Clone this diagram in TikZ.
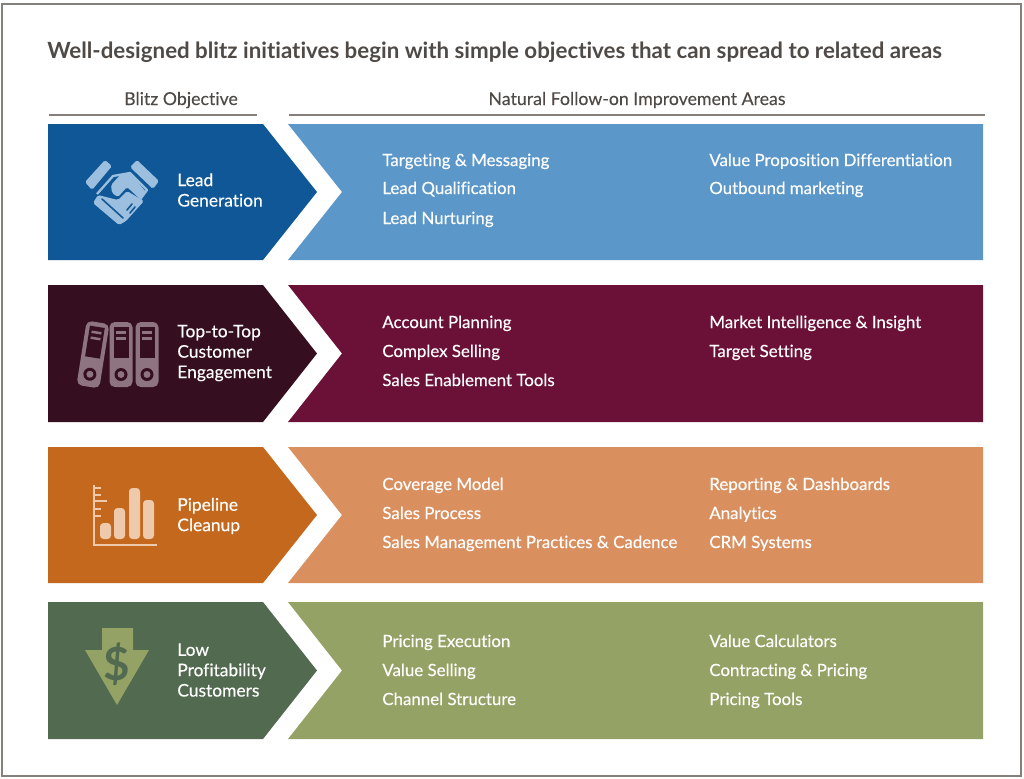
\documentclass[tikz,border=0pt]{standalone}
\usepackage{fontspec}
\setmainfont{Lato}[Ligatures=CommonOff]
\newfontfamily\medfont{Lato}[FakeBold=0.3,Ligatures=CommonOff]
\newfontfamily\headfont{Lato}[FakeBold=0.1,Ligatures=CommonOff]
\definecolor{inkgray}{HTML}{4F4A46}
\definecolor{rulegray}{HTML}{85807B}
\definecolor{leadD}{HTML}{0F5796}
\definecolor{leadL}{HTML}{5B97C9}
\definecolor{leadI}{HTML}{9DBFDF}
\definecolor{topD}{HTML}{350F1F}
\definecolor{topL}{HTML}{6B1138}
\definecolor{topI}{HTML}{8D7480}
\definecolor{pipeD}{HTML}{C3681D}
\definecolor{pipeL}{HTML}{DA8F5F}
\definecolor{pipeI}{HTML}{EFC9AB}
\definecolor{lowD}{HTML}{526A50}
\definecolor{lowL}{HTML}{95A265}
\tikzset{
  itemtext/.style={text=white,anchor=base west,inner sep=0pt,font=\medfont\fontsize{9.6}{11}\selectfont},
  headtext/.style={text=inkgray,inner sep=0pt,anchor=base,font=\headfont\fontsize{10.1}{12}\selectfont},
  goaltext/.style={text=white,anchor=west,inner sep=0pt,align=left,font=\medfont\fontsize{9.9}{11.6}\selectfont}
}
\begin{document}
\begin{tikzpicture}[x=0.02cm,y=-0.02cm]
 \useasboundingbox (0,0) rectangle (1024,778);
 \draw[rulegray,line width=0.7pt] (2,4) rectangle (1021,776);
 \node[text=inkgray,anchor=west,inner sep=0pt,font=\fontsize{12.7}{15}\selectfont\bfseries] (title) at (47,52)
   {Well-designed blitz initiatives begin with simple objectives that can spread to related areas};
 \node[headtext] (headleft) at (181,105) {Blitz Objective};
 \node[headtext] (headright) at (637,105) {Natural Follow-on Improvement Areas};
 \draw[rulegray,line width=1.2pt] (49,115)--(257,115);
 \draw[rulegray,line width=1.2pt] (289,115)--(985,115);
% the four bands: top, bottom, dark, light
 \foreach \t/\b/\cd/\cl in {124/260/leadD/leadL, 285/422/topD/topL, 447/583/pipeD/pipeL, 602/739/lowD/lowL} {
  \fill[\cd] (48,\t)--(263,\t)--(317,{(\t+\b)/2})--(263,\b)--(48,\b)--cycle;
  \fill[\cl] (288,\t)--(983,\t)--(983,\b)--(288,\b)--(342,{(\t+\b)/2})--cycle;
 }
% band labels
 \node[goaltext] (goallead) at (177,190) {Lead\\Generation};
 \node[goaltext] (goaltop) at (177,353) {Top-to-Top\\Customer\\Engagement};
 \node[goaltext] (goalpipe) at (177,516) {Pipeline\\Cleanup};
 \node[goaltext] (goallow) at (177,670) {Low\\Profitability\\Customers};
% follow-on areas
 \foreach \y/\txt in {166/Targeting \& Messaging, 194/Lead Qualification, 224/Lead Nurturing,
   328/Account Planning, 357/Complex Selling, 386/Sales Enablement Tools,
   490/Coverage Model, 519/Sales Process, 548/Sales Management Practices \& Cadence,
   647/Pricing Execution, 676/Value Selling, 705/Channel Structure}
  \node[itemtext] at (382,\y) {\txt};
 \foreach \y/\txt in {166/Value Proposition Differentiation, 194/Outbound marketing,
   328/Market Intelligence \& Insight, 357/Target Setting,
   490/Reporting \& Dashboards, 519/Analytics, 548/CRM Systems,
   647/Value Calculators, 676/Contracting \& Pricing, 705/Pricing Tools}
  \node[itemtext] at (709,\y) {\txt};
% handshake
 \fill[leadI,rounded corners=1pt] (85,182)--(105,160)--(112,166)--(92,190)--cycle;
 \fill[leadI,rounded corners=1pt] (130,167)--(137,160)--(159,181)--(153,189)--cycle;
 \draw[leadI,line width=1.3pt,line join=round] (97,194)--(113,176)--(130,173)--(147,190)--(125,220);
 \fill[leadI,rounded corners=1pt] (111,185)--(121,174)--(131,174)--(146,192)--(140,199)--(127,187)--(118,197)--(112,193)--cycle;
 \fill[leadI,rounded corners=1pt] (98,195)--(118,200)--(127,191)--(144,201)--(126,221)--(119,225)--(93,203)--cycle;
 \draw[leadD,line width=0.9pt,line cap=round] (102,199)--(123,218) (127,210)--(132,204) (130,213)--(135,207) (133,216)--(138,210);
% binders
 \foreach \x/\a in {93/-9, 121/0, 147/0} {
  \begin{scope}[shift={(\x,354.5)},rotate=\a]
   \fill[topI,rounded corners=3pt] (-11.5,-32.5)rectangle(11.5,32.5);
   \fill[topD] (-7.5,-28)rectangle(7.5,3);
   \fill[topI] (-5,-23.5)rectangle(5,-21);
   \fill[topI] (-5,-17.5)rectangle(5,-15);
   \fill[topD] (0,20) circle (6.5);
   \fill[topI] (0,20) circle (3.5);
  \end{scope}
 }
% bars
 \draw[pipeI,line width=1.6pt] (94,485)--(94,545)--(157,545);
 \foreach \y/\l in {488/101, 495/101, 501/107, 509/101, 516/101} \draw[pipeI,line width=1.2pt] (94,\y)--(\l,\y);
 \foreach \x/\t in {100/523, 114/508, 129/488, 143/500}
  \fill[pipeI,rounded corners=2pt] (\x,\t) rectangle (\x+11,539);
% down arrow
 \fill[lowL] (102,628)--(133,628)--(133,650)--(149,650)--(117,705)--(85,650)--(102,650)--cycle;
 \node[text=lowD,inner sep=0pt,font=\fontsize{26}{26}\selectfont\bfseries] (dollar) at (116.5,664) {\$};
\end{tikzpicture}
\end{document}
